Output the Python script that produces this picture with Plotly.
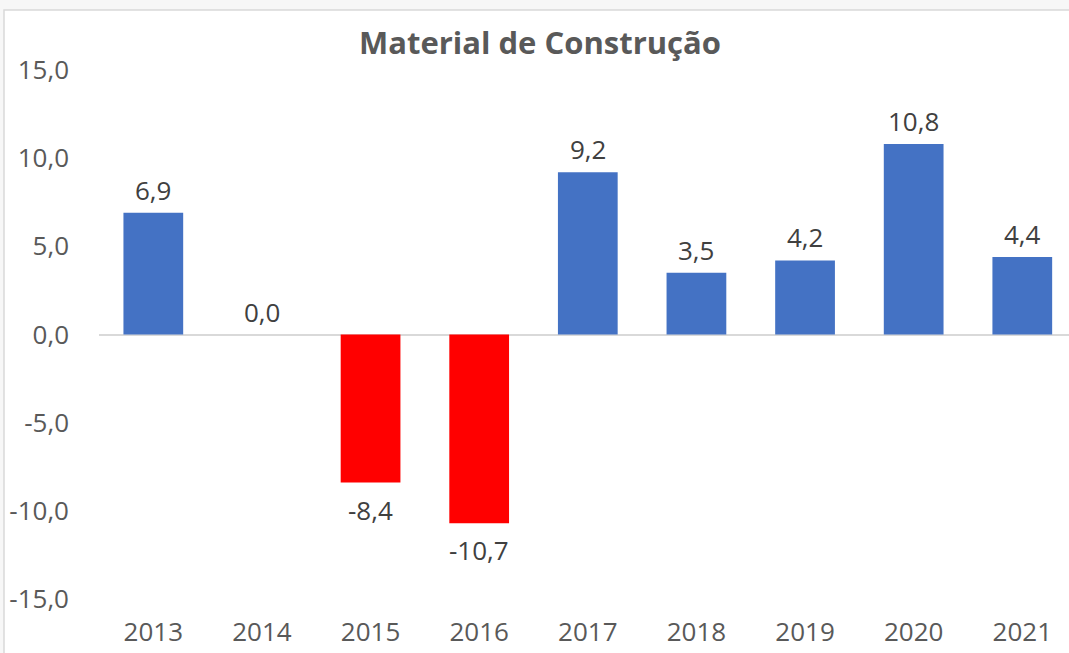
import plotly.graph_objects as go

years = ["2013", "2014", "2015", "2016", "2017", "2018", "2019", "2020", "2021"]
values = [6.9, 0.0, -8.4, -10.7, 9.2, 3.5, 4.2, 10.8, 4.4]
y_ticks = [-15, -10, -5, 0, 5, 10, 15]
y_tick_labels = ["-15,0", "-10,0", "-5,0", "0,0", "5,0", "10,0", "15,0"]
title = "Material de Construção"

labels = [f"{v:.1f}".replace(".", ",") for v in values]
colors = ["#FF0000" if v < 0 else "#4472C4" for v in values]

FONT = "Open Sans"
W, H = 1069, 653
ml, mr, mt, mb = 99, 0, 70, 54

fig = go.Figure()
fig.add_trace(go.Bar(
    x=years, y=values, marker_color=colors, marker_line_width=0,
    width=0.55, hoverinfo="skip",
))

# value labels, placed at each category index through the axis scale
for i, (v, lab) in enumerate(zip(values, labels)):
    fig.add_annotation(x=i, y=v, text=lab, showarrow=False,
                       xanchor="center", yanchor="middle",
                       yshift=(-27 if v < 0 else 23),
                       font=dict(family=FONT, size=26, color="#404040"))

pw = W - ml - mr
ph = H - mt - mb
# white chart area with light border (left at x=4, top at y=10)
fig.add_shape(type="rect", xref="paper", yref="paper",
              x0=(4 - ml) / pw, x1=(W + 20 - ml) / pw,
              y0=-(H + 20 - mt - ph) / ph, y1=(H - 10 - mb) / ph,
              fillcolor="white", line=dict(color="#d9d9d9", width=1.5),
              layer="below")

fig.update_layout(
    width=W, height=H,
    margin=dict(l=ml, r=mr, t=mt, b=mb, autoexpand=False),
    paper_bgcolor="#f7f7f7", plot_bgcolor="rgba(0,0,0,0)",
    showlegend=False,
    title=dict(text=f"<b>{title}</b>", xref="container", x=540 / W, xanchor="center",
               yref="container", y=1 - 43 / H, yanchor="middle",
               font=dict(family=FONT, size=31, color="#595959")),
    xaxis=dict(type="category", range=[-0.5, 8.43], showgrid=False, zeroline=False,
               showline=False, automargin=False,
               ticks="", tickfont=dict(family=FONT, size=26, color="#595959"),
               ticklabelstandoff=15),
    yaxis=dict(range=[-15, 15], tickvals=y_ticks, ticktext=y_tick_labels,
               automargin=False,
               showgrid=False, zeroline=True, zerolinecolor="#d9d9d9", zerolinewidth=1.5,
               showline=False, ticks="", ticklabelstandoff=29,
               tickfont=dict(family=FONT, size=26, color="#595959")),
)
fig.write_html("out.html", config={"displayModeBar": False},
               post_script="document.body.style.margin='0';document.body.style.overflow='hidden';")
